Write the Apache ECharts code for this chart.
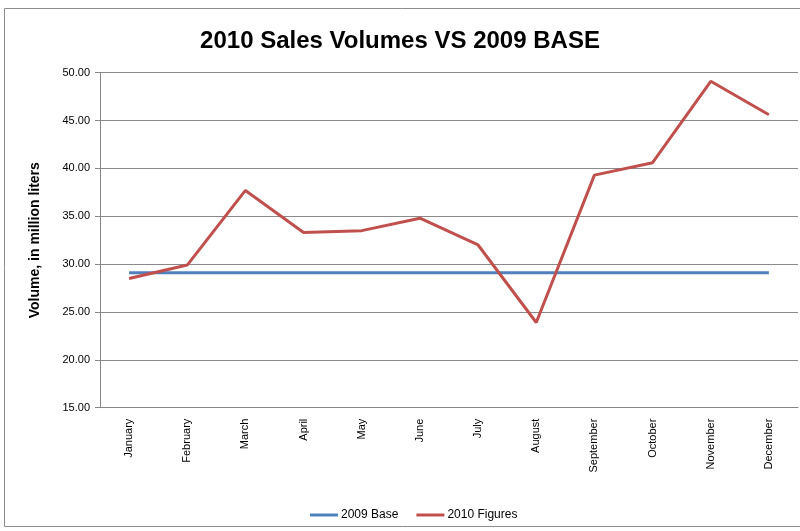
<!DOCTYPE html>
<html><head><meta charset="utf-8">
<script src="https://cdn.jsdelivr.net/npm/echarts@6/dist/echarts.min.js"></script>
<style>html,body{margin:0;padding:0;background:#fff}#c{width:800px;height:531px}</style>
</head><body><div id="c"></div>
<script>
const months = ["January","February","March","April","May","June","July","August","September","October","November","December"];
const base2009 = [29.1,29.1,29.1,29.1,29.1,29.1,29.1,29.1,29.1,29.1,29.1,29.1];
const figures2010 = [28.5,29.9,37.7,33.3,33.5,34.8,32.0,23.9,39.3,40.6,49.1,45.6];
const yMin = 15, yMax = 50, yStep = 5;

const chart = echarts.init(document.getElementById('c'));
const font = '"Liberation Sans Narrow","Liberation Sans",sans-serif';
chart.setOption({
  animation:false,
  backgroundColor:'#fff',
  graphic:[{type:'rect',shape:{x:4.5,y:8.5,width:800,height:518},style:{fill:'none',stroke:'#8c8c8c',lineWidth:1},silent:true}],
  title:{text:'2010 Sales Volumes VS 2009 BASE',left:'center',top:24,
    textStyle:{fontFamily:font,fontWeight:'bold',fontSize:24,color:'#000'}},
  grid:{left:100,top:72.7,right:2,bottom:123.3,containLabel:false},
  legend:{bottom:5,left:305,itemWidth:28,itemHeight:3,itemGap:18,icon:'rect',
    textStyle:{fontFamily:font,fontSize:12,color:'#000',padding:[0,0,0,-2]},
    data:['2009 Base','2010 Figures']},
  xAxis:{type:'category',data:months,boundaryGap:true,
    axisLine:{lineStyle:{color:'#868686'}},axisTick:{show:false},
    axisLabel:{rotate:90,fontFamily:font,fontSize:11,color:'#000',margin:11}},
  yAxis:{type:'value',min:yMin,max:yMax,interval:yStep,
    name:'Volume, in million liters',nameLocation:'middle',nameGap:58,
    nameTextStyle:{fontFamily:font,fontWeight:'bold',fontSize:14,color:'#000'},
    axisLine:{show:true,lineStyle:{color:'#868686'}},
    axisTick:{show:true,length:5,lineStyle:{color:'#868686'}},
    axisLabel:{formatter:v=>v.toFixed(2),fontFamily:font,fontSize:11,color:'#000',margin:10},
    splitLine:{lineStyle:{color:'#8a8a8a'}}},
  series:[
    {name:'2009 Base',type:'line',data:base2009,symbol:'none',lineStyle:{width:3,color:'#4F81BD'},itemStyle:{color:'#4F81BD'}},
    {name:'2010 Figures',type:'line',data:figures2010,symbol:'none',lineStyle:{width:3,color:'#C0504D'},itemStyle:{color:'#C0504D'}}
  ]
});
</script></body></html>
